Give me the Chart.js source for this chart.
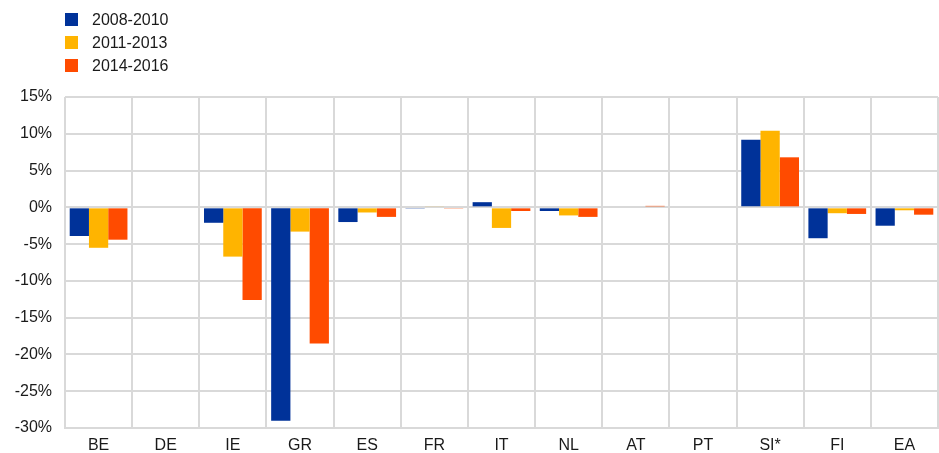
<!DOCTYPE html>
<html>
<head>
<meta charset="utf-8">
<script src="https://cdn.jsdelivr.net/npm/chart.js@4/dist/chart.umd.min.js"></script>
<style>
    body { margin: 0; background: #fff; font-family: "Liberation Sans", Arial, sans-serif; }
    #wrap { position: relative; width: 939px; height: 453px; }
    #legend { position: absolute; left: 65px; top: 8px; font-size: 16px; color: #1a1a1a; }
    #legend div { height: 23px; line-height: 23px; display: flex; align-items: center; }
    #legend span.box { width: 13px; height: 13px; display: inline-block; margin-right: 14px; }
</style>
</head>
<body>
<div id="wrap">
    <canvas id="chart" width="939" height="453"></canvas>
    <div id="legend"></div>
</div>
<script>
const categories = ['BE', 'DE', 'IE', 'GR', 'ES', 'FR', 'IT', 'NL', 'AT', 'PT', 'SI*', 'FI', 'EA'];
const seriesNames = ['2008-2010', '2011-2013', '2014-2016'];
const values2008 = [-3.9, 0, -2.1, -29.0, -2.0, -0.1, 0.7, -0.5, 0, 0, 9.2, -4.2, -2.5];
const values2011 = [-5.5, 0, -6.7, -3.3, -0.7, 0.15, -2.8, -1.1, 0, 0, 10.4, -0.8, -0.4];
const values2014 = [-4.4, 0, -12.6, -18.5, -1.3, -0.1, -0.5, -1.3, 0.2, 0, 6.8, -0.9, -1.0];
const colors = ['#003299', '#FFB400', '#FF4B00'];

const allValues = [values2008, values2011, values2014];
const datasets = seriesNames.map((name, i) => ({
    label: name,
    data: allValues[i],
    backgroundColor: colors[i],
    borderWidth: 0,
    categoryPercentage: 0.86,
    barPercentage: 1.0
}));

// legend (vertical, top left)
const legend = document.getElementById('legend');
seriesNames.forEach((name, i) => {
    const row = document.createElement('div');
    const box = document.createElement('span');
    box.className = 'box';
    box.style.background = colors[i];
    row.appendChild(box);
    row.appendChild(document.createTextNode(name));
    legend.appendChild(row);
});

const font = { family: '"Liberation Sans", Arial, sans-serif', size: 16 };

new Chart(document.getElementById('chart').getContext('2d'), {
    type: 'bar',
    data: { labels: categories, datasets: datasets },
    options: {
        responsive: false,
        animation: false,
        layout: { padding: { top: 97, right: 1, left: 0, bottom: 0 } },
        plugins: {
            legend: { display: false },
            tooltip: { enabled: false }
        },
        scales: {
            x: {
                afterFit: scale => { scale.height = 25; },
                grid: { color: '#d9d9d9', lineWidth: 2, drawTicks: false },
                border: { color: '#d9d9d9', width: 2 },
                ticks: { color: '#1a1a1a', font: font, padding: 8 }
            },
            y: {
                min: -30,
                max: 15,
                afterFit: scale => { scale.width = 65; },
                grid: { color: '#d9d9d9', lineWidth: 2, drawTicks: false },
                border: { display: false },
                ticks: {
                    stepSize: 5,
                    color: '#1a1a1a',
                    font: font,
                    padding: 13,
                    callback: v => v + '%'
                }
            }
        }
    }
});
</script>
</body>
</html>
